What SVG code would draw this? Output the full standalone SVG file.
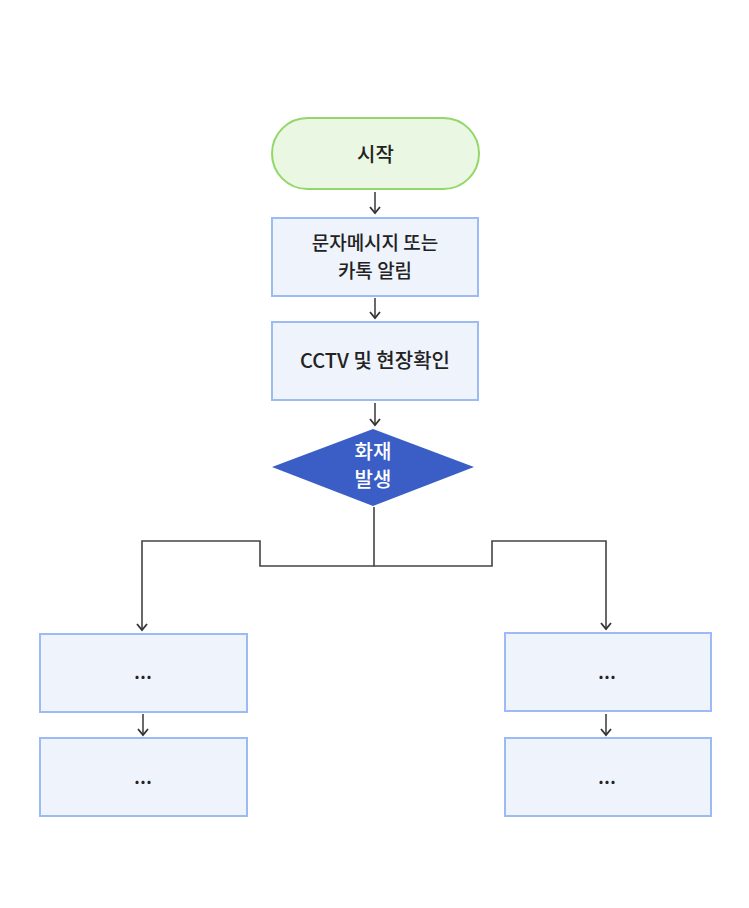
<svg xmlns="http://www.w3.org/2000/svg" width="749" height="908" viewBox="0 0 749 908">
<defs>
<style>
.box{fill:#eef3fc;stroke:#9cbaf3;stroke-width:2}
.t{font-family:"Noto Sans CJK KR","Noto Sans",sans-serif;font-size:20px;font-weight:500;fill:#222;text-anchor:middle}
.s{font-size:19px}
.w{fill:#ffffff}
.c{fill:none;stroke:#444;stroke-width:1.6}
</style>
<marker id="ah" viewBox="0 0 12 12" refX="10" refY="6" markerWidth="12" markerHeight="12" markerUnits="userSpaceOnUse" orient="auto">
<path d="M4,1 L10,6 L4,11" fill="none" stroke="#333" stroke-width="1.8"/>
</marker>
</defs>
<rect width="749" height="908" fill="#ffffff"/>
<g id="connectors">
<line class="c" x1="375" y1="192" x2="375" y2="213" marker-end="url(#ah)"/>
<line class="c" x1="375" y1="298" x2="375" y2="318" marker-end="url(#ah)"/>
<line class="c" x1="375" y1="403" x2="375" y2="425" marker-end="url(#ah)"/>
<polyline class="c" points="374,507 374,566 260,566 260,541 142,541 142,630" marker-end="url(#ah)"/>
<polyline class="c" points="374,566 492,566 492,541 606,541 606,629" marker-end="url(#ah)"/>
<line class="c" x1="143" y1="714" x2="143" y2="735" marker-end="url(#ah)"/>
<line class="c" x1="606" y1="714" x2="606" y2="735" marker-end="url(#ah)"/>
</g>
<g id="start">
<rect x="272" y="118" width="207" height="71" rx="35.5" fill="#eaf7e3" stroke="#92d868" stroke-width="2"/>
<text class="t" x="375.5" y="162">시작</text>
</g>
<g id="notify">
<rect class="box" x="272" y="218" width="206" height="78"/>
<text class="t s" x="375" y="250">문자메시지 또는</text>
<text class="t s" x="375" y="278">카톡 알림</text>
</g>
<g id="check">
<rect class="box" x="272" y="322" width="206" height="78"/>
<text class="t" x="375" y="368">CCTV 및 현장확인</text>
</g>
<g id="fire">
<polygon points="373,429 474,467 373,506 272,467" fill="#3a5ec6"/>
<text class="t w" x="373" y="459">화재</text>
<text class="t w" x="373" y="487">발생</text>
</g>
<g id="left1">
<rect class="box" x="40" y="634" width="207" height="78"/>
<text class="t" x="143" y="679">...</text>
</g>
<g id="left2">
<rect class="box" x="40" y="738" width="207" height="78"/>
<text class="t" x="143" y="784">...</text>
</g>
<g id="right1">
<rect class="box" x="505" y="633" width="206" height="78"/>
<text class="t" x="607" y="679">...</text>
</g>
<g id="right2">
<rect class="box" x="505" y="738" width="206" height="78"/>
<text class="t" x="607" y="784">...</text>
</g>
</svg>
